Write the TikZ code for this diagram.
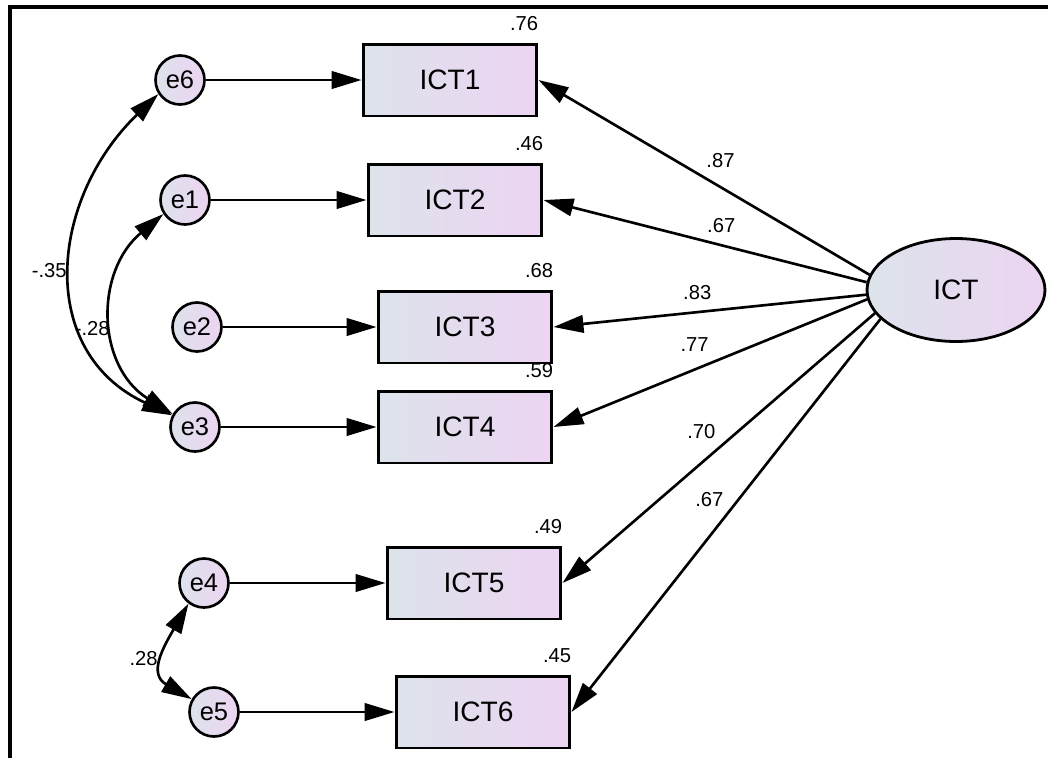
\documentclass[tikz,border=0pt]{standalone}
\usepackage{fontspec}
\setmainfont{Liberation Sans}
\usepackage{tikz}
\usetikzlibrary{arrows.meta,shapes.geometric}
\definecolor{cleft}{RGB}{221,227,235}
\definecolor{cright}{RGB}{236,212,242}

\begin{document}
\begin{tikzpicture}[
  x=0.02cm, y=-0.02cm,
  >={Triangle[length=6mm,width=3.5mm]},
  obs/.style={draw,line width=1.7pt,left color=cleft,right color=cright,minimum width=3.48cm,minimum height=1.44cm,font=\fontsize{16}{19}\selectfont},
  lat/.style={draw,ellipse,line width=1.6pt,left color=cleft,right color=cright,minimum width=3.56cm,minimum height=2.06cm,font=\fontsize{16}{19}\selectfont},
  err/.style={draw,circle,line width=1.5pt,left color=cleft,right color=cright,minimum size=0.98cm,inner sep=0pt,font=\fontsize{14.5}{17}\selectfont},
  val/.style={font=\fontsize{11.5}{14}\selectfont,inner sep=0pt},
  r2/.style={val,anchor=south east,yshift=0.22cm},
  load/.style={->,line width=1.5pt},
  cov/.style={<->,line width=1.5pt},
]
\useasboundingbox (0,0) rectangle (1048,758);
\draw[line width=2pt] (10,758) -- (10,7) -- (1048,7);

% indicators
\node[obs] (ict1) at (450,80)  {ICT1};
\node[obs] (ict2) at (455,200) {ICT2};
\node[obs] (ict3) at (465,327) {ICT3};
\node[obs] (ict4) at (465,427) {ICT4};
\node[obs] (ict5) at (474,583) {ICT5};
\node[obs] (ict6) at (483,712) {ICT6};
\node[r2] at (ict1.north east) {.76};
\node[r2] at (ict2.north east) {.46};
\node[r2] at (ict3.north east) {.68};
\node[r2] at (ict4.north east) {.59};
\node[r2] at (ict5.north east) {.49};
\node[r2] at (ict6.north east) {.45};

% latent factor
\node[lat] (ict) at (956,290) {ICT};

% error terms
\node[err] (e6) at (180,80)  {e6};
\node[err] (e1) at (185,200) {e1};
\node[err] (e2) at (197,327) {e2};
\node[err] (e3) at (195,427) {e3};
\node[err] (e4) at (204,583) {e4};
\node[err] (e5) at (214,712) {e5};

\draw[load] (e6) -- (ict1);
\draw[load] (e1) -- (ict2);
\draw[load] (e2) -- (ict3);
\draw[load] (e3) -- (ict4);
\draw[load] (e4) -- (ict5);
\draw[load] (e5) -- (ict6);

\draw[load] (ict.170) -- node[val,pos=.45,yshift=0.54cm]{.87} (ict1.east);
\draw[load] (ict.175) -- node[val,pos=.45,yshift=0.40cm]{.67} (ict2.east);
\draw[load] (ict.183) -- node[val,pos=.54,yshift=0.40cm]{.83} (ict3.east);
\draw[load] (ict.186) -- node[val,pos=.55,yshift=0.50cm]{.77} (ict4.east);
\draw[load] (ict.196) -- node[val,pos=.44,xshift=-0.72cm]{.70} (ict5.east);
\draw[load] (ict.201) -- node[val,pos=.46,xshift=-0.58cm]{.67} (ict6.east);

% covariances
\draw[cov] (e6.213) to[out=224,in=155,looseness=1.2] node[val,pos=.5,left=3pt]{-.35} (e3.153);
\draw[cov] (e1.213) to[out=220,in=148,looseness=1.15] node[val,pos=.55,left=2pt]{-.28} (e3.150);
\draw[cov] (e4.233) to[out=240,in=150,looseness=1.35] node[val,pos=.5,left=3pt]{.28} (e5.150);
\end{tikzpicture}
\end{document}
